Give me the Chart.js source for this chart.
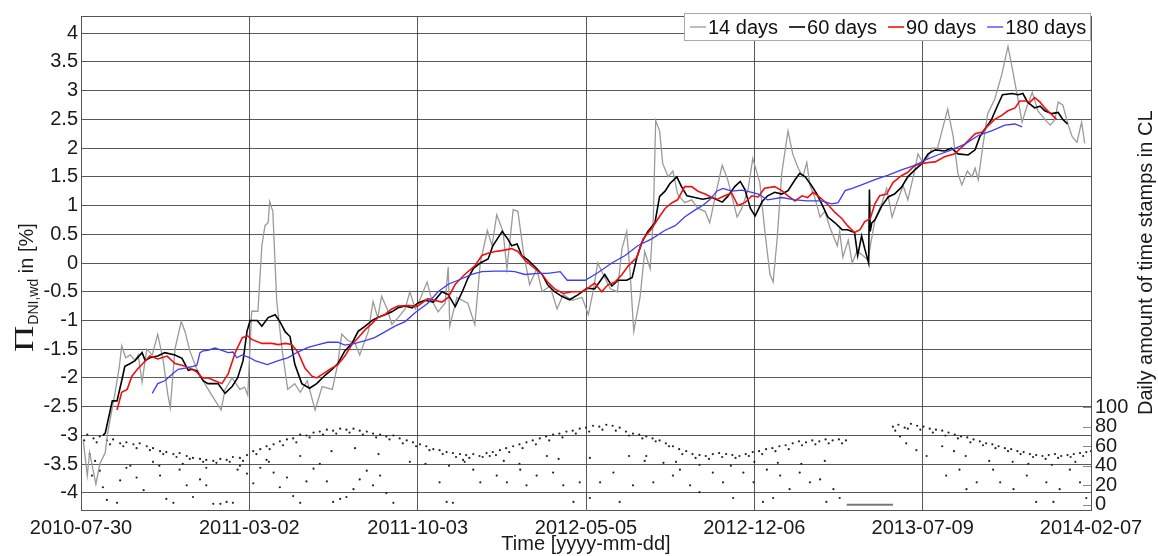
<!DOCTYPE html>
<html>
<head>
<meta charset="utf-8">
<script src="https://cdn.jsdelivr.net/npm/chart.js@4/dist/chart.umd.min.js"></script>
<style>
  html, body { margin: 0; padding: 0; background: #fff; }
</style>
</head>
<body>
<canvas id="c" width="1158" height="556"></canvas>
<script>
// x values are days since 2010-07-30
var xTickDays   = [0, 215, 430, 645, 860, 1075, 1290];
var xTickLabels = ['2010-07-30', '2011-03-02', '2011-10-03', '2012-05-05', '2012-12-06', '2013-07-09', '2014-02-07'];
var yTicks      = [-4, -3.5, -3, -2.5, -2, -1.5, -1, -0.5, 0, 0.5, 1, 1.5, 2, 2.5, 3, 3.5, 4];
var countTicks  = [0, 20, 40, 60, 80, 100];
var seriesNames = ['14 days', '60 days', '90 days', '180 days'];

var days14 = [3,8,11,19,24,31,34,43,49,52,57,63,69,73,78,84,91,98,105,111,114,120,128,133,139,148,158,167,179,184,193,203,209,213,218,226,231,235,239,241,245,250,257,264,273,280,289,299,308,321,328,333,341,350,356,367,373,379,384,391,397,405,414,420,427,434,442,448,456,465,469,471,480,494,503,510,519,525,531,539,544,552,558,565,573,582,589,599,608,616,627,640,648,654,660,667,676,685,691,697,701,706,714,720,727,731,734,739,743,750,756,762,771,780,788,797,803,812,819,826,838,844,852,858,867,874,880,884,889,895,903,909,916,922,927,931,937,944,950,957,966,969,973,980,985,991,997,1005,1014,1023,1029,1036,1042,1050,1056,1063,1069,1075,1082,1087,1094,1101,1107,1114,1120,1125,1132,1138,1142,1146,1152,1158,1167,1176,1184,1190,1197,1202,1208,1215,1222,1231,1238,1244,1248,1254,1261,1266,1272,1278,1282];
var vals14 = [-3.1,-3.7,-3.3,-3.85,-3.5,-3.3,-2.96,-2.3,-1.8,-1.44,-1.65,-1.6,-1.7,-1.6,-2.07,-1.5,-1.6,-1.24,-1.7,-2.3,-2.52,-1.5,-1.02,-1.2,-1.53,-1.85,-2.1,-2.3,-2.56,-2.2,-2.0,-2.2,-2.16,-2.3,-0.84,-0.84,0.3,0.65,0.7,1.07,0.9,-0.67,-1.53,-2.2,-2.1,-2.25,-2.05,-2.56,-2.15,-2.2,-1.75,-1.24,-1.35,-1.4,-1.6,-1.19,-0.67,-0.95,-0.58,-0.8,-1.07,-0.95,-0.8,-0.5,-0.8,-0.6,-0.33,-0.65,-0.85,-0.7,-0.07,-1.1,-0.6,-0.7,-1.07,0.0,0.57,0.3,0.84,0.55,-0.1,0.93,0.9,0.2,-0.38,-0.1,-0.5,-0.4,-0.8,-0.55,-0.65,-0.6,-0.9,-0.5,0.0,-0.2,-0.45,-0.5,0.25,0.55,-0.1,-1.19,-0.6,0.2,-0.1,0.8,2.48,2.3,1.73,1.5,1.6,1.2,1.05,1.1,0.95,0.9,0.7,1.28,1.7,1.45,0.8,0.95,1.28,1.82,1.4,0.48,-0.2,-0.33,0.4,1.56,2.3,1.9,1.65,1.5,1.75,1.35,1.15,0.8,0.9,0.6,0.3,0.55,0.1,0.4,0.0,0.2,0.15,0.05,0.75,1.05,1.3,0.8,1.05,1.35,1.1,1.5,1.9,1.75,1.85,2.0,2.0,2.37,2.68,2.2,1.56,1.36,1.6,1.5,1.65,1.45,2.05,2.6,2.85,3.28,3.77,3.35,2.83,2.45,2.72,2.97,2.65,2.5,2.4,2.5,2.8,2.75,2.4,2.2,2.1,2.45,2.08];

var days60 = [28,31,40,46,52,56,63,69,78,82,88,98,107,120,129,137,142,148,156,162,175,184,193,200,207,212,216,225,231,239,248,254,261,267,273,282,292,301,312,321,328,337,346,354,363,372,379,388,397,405,414,423,430,439,450,461,469,478,487,494,501,510,520,526,538,545,550,557,563,571,580,589,596,605,614,624,635,646,656,669,678,686,697,704,710,716,724,733,739,746,752,761,767,774,784,794,806,819,826,835,842,848,855,861,870,877,886,895,903,912,918,925,933,940,946,954,963,972,979,988,992,997,1001,1005,1006,1007,1008,1010,1014,1023,1031,1039,1048,1056,1065,1074,1082,1091,1103,1112,1120,1133,1142,1148,1154,1163,1170,1177,1189,1197,1203,1209,1218,1225,1231,1240,1248,1254,1260];
var vals60 = [-3.0,-2.96,-2.4,-2.4,-2.05,-1.8,-1.75,-1.7,-1.56,-1.7,-1.65,-1.62,-1.56,-1.6,-1.66,-1.87,-1.85,-1.88,-2.05,-2.1,-2.1,-2.27,-2.15,-2.0,-1.7,-1.19,-1.0,-1.0,-1.1,-0.95,-0.9,-1.02,-1.2,-1.28,-1.76,-2.1,-2.18,-2.1,-1.95,-1.85,-1.75,-1.53,-1.4,-1.19,-1.1,-1.0,-0.95,-0.9,-0.85,-0.78,-0.75,-0.78,-0.7,-0.65,-0.68,-0.5,-0.55,-0.76,-0.5,-0.27,-0.1,0.0,0.07,0.3,0.55,0.42,0.3,0.33,0.13,0.05,-0.07,-0.2,-0.38,-0.5,-0.58,-0.64,-0.55,-0.44,-0.45,-0.2,-0.4,-0.3,-0.3,-0.25,0.1,0.35,0.55,0.7,1.16,1.25,1.38,1.5,1.33,1.17,1.14,1.11,1.14,1.06,1.16,1.33,1.42,1.28,0.95,0.82,1.07,1.17,1.23,1.2,1.26,1.45,1.56,1.5,1.35,1.2,1.03,0.8,0.7,0.58,0.58,0.53,0.13,0.47,0.25,0.05,0.0,1.28,0.55,0.7,0.75,1.0,1.15,1.2,1.32,1.5,1.62,1.73,1.9,1.97,1.95,2.0,1.9,1.88,1.97,2.2,2.32,2.5,2.72,2.93,2.95,2.93,2.95,2.8,2.7,2.73,2.65,2.6,2.62,2.5,2.42];

var days90 = [46,52,59,65,72,79,88,98,110,120,129,139,148,155,162,171,180,188,197,206,213,218,231,244,252,261,269,277,286,295,301,309,318,328,337,346,354,363,372,379,388,397,405,418,430,443,461,469,478,490,503,512,520,529,539,550,558,567,580,589,596,605,616,627,640,647,656,665,673,682,691,699,710,718,729,737,746,755,762,771,780,788,797,806,813,822,831,839,848,857,865,873,886,895,903,912,921,928,935,944,953,963,972,979,988,995,1001,1008,1014,1020,1029,1037,1048,1056,1065,1074,1082,1091,1103,1116,1129,1142,1151,1157,1167,1176,1184,1193,1199,1206,1212,1218,1225,1231,1237,1246];
var vals90 = [-2.56,-2.25,-2.2,-1.97,-1.85,-1.75,-1.62,-1.67,-1.62,-1.75,-1.78,-1.83,-1.9,-2.0,-2.0,-2.05,-2.1,-1.93,-1.56,-1.3,-1.27,-1.33,-1.4,-1.4,-1.42,-1.4,-1.42,-1.55,-1.83,-1.97,-2.0,-1.93,-1.85,-1.77,-1.62,-1.42,-1.3,-1.16,-1.05,-0.95,-0.9,-0.8,-0.75,-0.74,-0.75,-0.62,-0.68,-0.6,-0.37,-0.2,-0.05,0.13,0.17,0.2,0.22,0.25,0.2,0.05,-0.1,-0.2,-0.33,-0.45,-0.53,-0.5,-0.5,-0.44,-0.35,-0.5,-0.38,-0.33,-0.2,-0.05,0.1,0.42,0.6,0.77,0.95,1.05,1.1,1.33,1.33,1.25,1.2,1.14,1.11,1.17,1.22,1.0,1.05,1.17,1.15,1.3,1.33,1.26,1.17,1.08,1.17,1.14,1.23,1.14,1.03,0.88,0.77,0.65,0.53,0.58,0.72,0.77,1.03,1.17,1.2,1.4,1.52,1.58,1.7,1.73,1.75,1.76,1.85,1.9,2.07,2.25,2.28,2.37,2.5,2.57,2.65,2.7,2.82,2.82,2.8,2.88,2.8,2.7,2.62,2.5];

var days180 = [91,98,107,116,124,133,143,148,152,156,162,171,180,188,194,199,206,216,222,238,252,264,277,290,303,315,328,337,350,363,375,388,401,414,427,443,456,469,487,499,512,529,545,554,567,584,596,612,621,629,644,660,678,695,711,729,746,759,771,784,794,803,812,820,831,844,857,865,877,895,912,928,946,959,967,976,985,997,1014,1031,1048,1065,1078,1094,1112,1129,1146,1163,1180,1193,1202];
var vals180 = [-2.27,-2.1,-2.05,-1.94,-1.85,-1.83,-1.8,-1.78,-1.56,-1.53,-1.52,-1.48,-1.52,-1.56,-1.55,-1.65,-1.6,-1.65,-1.7,-1.77,-1.7,-1.65,-1.55,-1.47,-1.42,-1.38,-1.38,-1.43,-1.4,-1.35,-1.3,-1.2,-1.1,-1.02,-0.86,-0.7,-0.5,-0.37,-0.27,-0.2,-0.15,-0.14,-0.14,-0.15,-0.2,-0.18,-0.18,-0.15,-0.3,-0.3,-0.3,-0.17,0.0,0.13,0.3,0.42,0.57,0.65,0.8,0.92,1.0,1.1,1.25,1.3,1.25,1.27,1.23,1.2,1.1,1.14,1.1,1.08,1.08,1.03,1.05,1.26,1.3,1.36,1.45,1.53,1.62,1.7,1.79,1.88,1.97,2.07,2.22,2.3,2.4,2.42,2.37];

// daily amount of time stamps (right axis)
var dotDays = [0,8,16,24,33,41,50,58,67,75,84,92,101,109,118,126,135,143,152,160,169,178,186,194,203,212,220,229,237,246,254,263,271,280,288,297,305,314,322,331,339,348,356,365,373,382,390,399,407,416,424,433,441,450,458,467,475,484,492,501,509,518,526,535,543,552,560,569,577,586,594,603,611,620,628,637,645,654,662,671,679,688,696,705,713,722,730,739,747,756,764,773,781,790,798,807,815,824,832,841,849,858,866,875,883,892,900,909,917,926,934,943,951,960,968,977,1037,1044,1052,1060,1068,1076,1084,1092,1100,1108,1116,1124,1132,1140,1148,1156,1164,1172,1180,1188,1196,1204,1212,1220,1228,1236,1244,1252,1260,1268,1276,1284,1290,
  4,20,37,54,71,88,105,122,139,156,173,190,207,224,241,258,275,292,309,326,343,360,377,394,411,428,445,462,479,496,513,530,547,564,581,598,615,632,649,666,683,700,717,734,751,768,785,802,819,836,853,870,887,904,921,938,955,972,1040,1056,1072,1088,1104,1120,1136,1152,1168,1184,1200,1216,1232,1248,1264,1280,
  11,14,18,24,28,33,46,50,58,63,71,80,92,101,109,118,126,135,143,152,160,169,178,186,194,203,212,220,229,237,246,254,263,271,280,288,297,305,314,322,331,339,348,356,365,373,382,390,399,
  100,130,160,200,240,280,320,350,380,420,440,470,490,540,560,610,650,700,720,760,790,830,860,890,920,950,1100,1115,1130,1160,1190,1210,1240,1270,
  458,467,475,488,501,510,522,531,544,561,569,582,595,603,616,629,637,650,663,680,688,705,722,731,744,756,765,778,790,807,820,833,846,859,871,884,
  876,893,905,918,931,944,952,961,969,1046,1054,1067,1080,1105,1122,1131,1144,1165,1174,1191,1208,1220,1233,1242,1250,1263,1276,1284];
var dotCounts = [70,72,68,70,66,67,63,64,62,63,60,58,55,54,52,53,50,48,47,46,45,47,46,49,48,51,55,57,60,62,65,67,68,72,71,74,75,77,76,78,77,78,76,75,73,72,70,71,68,66,64,62,60,57,56,54,53,52,51,52,50,53,54,56,58,60,62,64,66,68,70,72,73,75,76,78,79,81,80,82,81,79,75,73,72,70,68,66,63,60,57,55,52,51,50,52,53,52,51,50,52,54,55,57,58,60,61,63,65,64,66,65,67,66,67,66,80,82,79,83,81,80,78,77,76,74,72,70,69,67,65,63,62,60,58,57,55,54,52,51,50,51,52,50,51,52,53,54,55,
  66,64,62,60,58,56,52,49,47,44,43,44,45,52,57,61,64,69,72,73,74,72,69,67,63,60,56,52,49,48,49,51,54,58,62,66,69,73,75,77,76,71,68,65,60,52,48,47,49,48,50,52,55,57,61,62,63,63,76,78,77,74,71,68,64,61,58,55,52,49,47,48,49,50,
  52,30,45,35,18,5,2,25,38,40,28,15,44,30,6,2,36,20,8,26,20,1,1,3,2,40,32,22,38,46,33,18,28,9,2,24,37,42,24,3,6,8,16,26,35,20,30,12,2,
  40,42,38,36,44,50,55,58,52,44,42,40,44,45,42,47,48,50,45,44,41,40,44,43,42,45,60,55,50,45,44,42,41,44,
  23,3,2,46,36,23,50,30,23,36,20,30,50,33,20,3,23,7,23,33,3,20,50,23,43,30,36,20,13,33,23,7,33,23,3,7,
  36,30,16,33,23,26,3,16,7,70,63,56,50,30,36,16,23,36,23,16,30,3,23,3,16,36,23,7];
var zeroRunDays   = [978, 1037];
var zeroRunCounts = [0, 0];

function pts(xs, ys) {
    return xs.map(function(x, i) { return {x: x, y: ys[i]}; });
}

var FONT = "'Liberation Sans', Arial, sans-serif";
Chart.defaults.font.family = FONT;
Chart.defaults.color = '#1a1a1a';

var gridColor = 'rgba(60,60,60,0.85)';

var extras = {
    id: 'extras',
    afterDraw: function(chart) {
        var ctx = chart.ctx, a = chart.chartArea, y2 = chart.scales.y2;
        ctx.save();

        // top frame line
        ctx.strokeStyle = '#555';
        ctx.lineWidth = 1;
        ctx.beginPath();
        ctx.moveTo(a.left, a.top + 0.5);
        ctx.lineTo(a.right, a.top + 0.5);
        ctx.stroke();

        // inward tick marks of the right axis
        ctx.strokeStyle = '#888';
        countTicks.forEach(function(c) {
            var py = Math.round(y2.getPixelForValue(c)) + 0.5;
            ctx.beginPath();
            ctx.moveTo(a.right - 8, py);
            ctx.lineTo(a.right, py);
            ctx.stroke();
        });

        // legend box
        ctx.font = '20px ' + FONT;
        var bx = 684, by = 13, bw = a.right - 1 - bx, bh = 27;
        ctx.fillStyle = '#fff';
        ctx.fillRect(bx, by, bw, bh);
        ctx.strokeStyle = '#aaa';
        ctx.strokeRect(bx + 0.5, by + 0.5, bw, bh);
        var lx = 690, ly = by + bh / 2 + 0.5;
        ctx.textBaseline = 'middle';
        ctx.textAlign = 'left';
        seriesNames.forEach(function(name, i) {
            var ds = chart.data.datasets[i];
            ctx.strokeStyle = ds.borderColor;
            ctx.lineWidth = ds.borderWidth;
            ctx.beginPath();
            ctx.moveTo(lx, ly);
            ctx.lineTo(lx + 16, ly);
            ctx.stroke();
            ctx.fillStyle = '#111';
            ctx.fillText(name, lx + 18, ly + 1);
            lx += 18 + ctx.measureText(name).width + 11;
        });

        // left axis title: Pi with subscript DNI,wd then "in [%]"
        ctx.save();
        ctx.translate(33, 352);
        ctx.rotate(-Math.PI / 2);
        ctx.textBaseline = 'alphabetic';
        ctx.fillStyle = '#1a1a1a';
        ctx.save();
        ctx.scale(1.35, 1);
        ctx.font = "27px 'Liberation Serif', serif";
        var wPi = ctx.measureText('\u03A0').width * 1.35;
        ctx.fillText('\u03A0', 0, 0);
        ctx.restore();
        ctx.font = '14px ' + FONT;
        ctx.fillText('DNI,wd', wPi + 1, 5);
        var wSub = ctx.measureText('DNI,wd').width;
        ctx.font = '20px ' + FONT;
        ctx.fillText(' in [%]', wPi + 1 + wSub, 0);
        ctx.restore();

        // right axis title, reading upward
        ctx.save();
        ctx.translate(1152, 415);
        ctx.rotate(-Math.PI / 2);
        ctx.textBaseline = 'alphabetic';
        ctx.textAlign = 'left';
        ctx.fillStyle = '#1a1a1a';
        ctx.font = '20px ' + FONT;
        ctx.fillText('Daily amount of time stamps in CL', 0, 0);
        ctx.restore();

        ctx.restore();
    }
};

var ctx = document.getElementById('c');
var chart = new Chart(ctx, {
    type: 'line',
    data: {
        datasets: [
            { label: seriesNames[0], data: pts(days14, vals14), borderColor: '#9a9a9a', borderWidth: 1.3, order: 3, yAxisID: 'y' },
            { label: seriesNames[1], data: pts(days60, vals60), borderColor: '#000000', borderWidth: 1.6, order: 2, yAxisID: 'y' },
            { label: seriesNames[2], data: pts(days90, vals90), borderColor: '#ee1111', borderWidth: 1.6, order: 1, yAxisID: 'y' },
            { label: seriesNames[3], data: pts(days180, vals180), borderColor: '#3d3df5', borderWidth: 1.3, order: 0, yAxisID: 'y' },
            { label: 'count', type: 'scatter', data: pts(dotDays, dotCounts), backgroundColor: '#222', borderWidth: 0, pointRadius: 1.1, order: 5, yAxisID: 'y2' },
            { label: 'zero', data: pts(zeroRunDays, zeroRunCounts), borderColor: '#777', borderWidth: 2, order: 4, yAxisID: 'y2' }
        ]
    },
    options: {
        responsive: false,
        animation: false,
        devicePixelRatio: 1,
        layout: { padding: { top: 10, left: 0, right: 0, bottom: 0 } },
        elements: { point: { radius: 0 }, line: { tension: 0 } },
        plugins: { legend: { display: false }, tooltip: { enabled: false } },
        scales: {
            x: {
                type: 'linear', min: 0, max: 1290,
                afterBuildTicks: function(s) { s.ticks = xTickDays.map(function(v) { return {value: v}; }); },
                afterFit: function(s) { s.height = 46; },
                grid: { color: gridColor, drawTicks: false },
                border: { color: '#555' },
                ticks: {
                    autoSkip: false, maxRotation: 0, padding: 6,
                    font: { size: 20 },
                    callback: function(v, i) { return xTickLabels[i]; }
                },
                title: { display: true, text: 'Time [yyyy-mm-dd]', font: { size: 20 }, padding: { top: 0, bottom: 0 } }
            },
            y: {
                position: 'left', min: -4.3, max: 4.3,
                afterBuildTicks: function(s) { s.ticks = yTicks.map(function(v) { return {value: v}; }); },
                afterFit: function(s) { s.width = 81; },
                grid: { color: gridColor, drawTicks: false },
                border: { color: '#555' },
                ticks: { padding: 3, font: { size: 20 }, callback: function(v) { return String(v); } }
            },
            y2: {
                position: 'right', min: -5.3, max: 500.7,
                afterBuildTicks: function(s) { s.ticks = countTicks.map(function(v) { return {value: v}; }); },
                afterFit: function(s) { s.width = 67; },
                grid: { display: false, drawTicks: false },
                border: { color: '#555' },
                ticks: { padding: 4, font: { size: 20 }, callback: function(v) { return String(v); } }
            }
        }
    },
    plugins: [extras]
});
</script>
</body>
</html>
